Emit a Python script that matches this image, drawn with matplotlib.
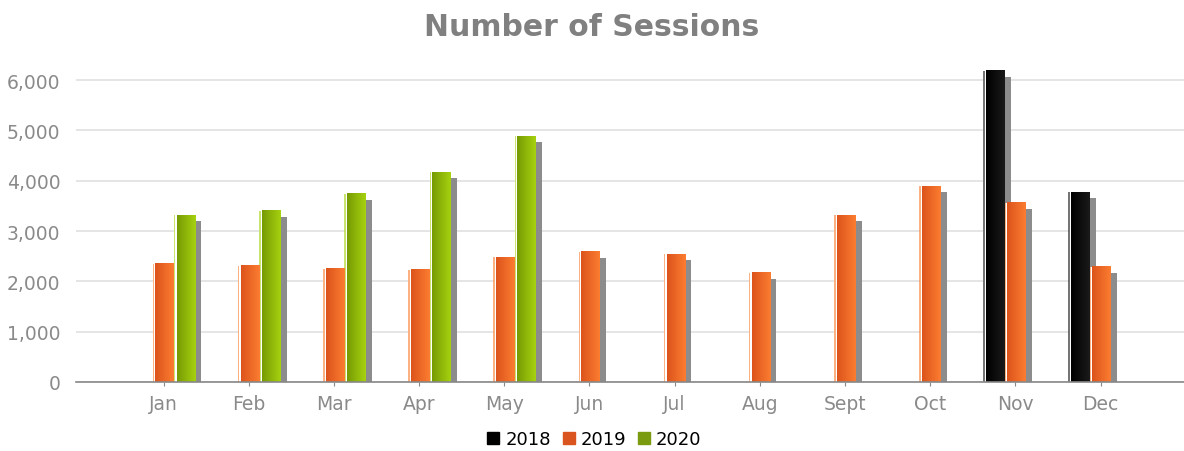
import numpy as np
import matplotlib
matplotlib.use("Agg")
import matplotlib.pyplot as plt
from matplotlib.colors import to_rgb
from matplotlib.lines import Line2D
from matplotlib.ticker import FuncFormatter

months = ["Jan", "Feb", "Mar", "Apr", "May", "Jun", "Jul", "Aug", "Sept", "Oct", "Nov", "Dec"]
years = ["2018", "2019", "2020"]
s2018 = [0, 0, 0, 0, 0, 0, 0, 0, 0, 0, 6190, 3770]
s2019 = [2350, 2310, 2250, 2230, 2480, 2590, 2540, 2170, 3310, 3890, 3560, 2290]
s2020 = [3310, 3400, 3740, 4170, 4890, 0, 0, 0, 0, 0, 0, 0]

# dark -> light gradient ends, plus legend colour
styles = {
    "2018": ("#000000", "#1a1a1a", "#000000"),
    "2019": ("#dc531b", "#fb7d31", "#d9541e"),
    "2020": ("#769a04", "#a6d20f", "#7a9a10"),
}

fig = plt.figure(figsize=(11.84, 4.52), dpi=100)
ax = fig.add_axes([0.064, 0.1527, 0.936, 0.7234])

x = np.arange(len(months))
w = 0.25
px = 1 / 85.1          # one pixel in x data units
py = 1000 / 50.3       # one pixel in y data units

for i, (yr, vals) in enumerate(zip(years, [s2018, s2019, s2020])):
    dark, light, _ = styles[yr]
    pos = x + (i - 1) * w
    # drop shadow
    sh = [v - 6 * py if v > 0 else 0 for v in vals]
    ax.bar(pos + 6 * px, sh, w, color="#8c8c8c", zorder=2, linewidth=0)
    # white base, then thin light stripe on the left
    bars = ax.bar(pos, vals, w, color="white", zorder=3, linewidth=0)
    ax.bar(pos - w / 2 + 0.6 * px, vals, 1.4 * px, color=light, alpha=0.6, zorder=4, linewidth=0)
    grad = np.linspace(0, 1, 64)
    c0, c1 = np.array(to_rgb(dark)), np.array(to_rgb(light))
    img = (c0[None, :] * (1 - grad[:, None]) + c1[None, :] * grad[:, None])[None, :, :]
    for b in bars:
        h = b.get_height()
        if h <= 0:
            continue
        x0 = b.get_x() + 2.6 * px
        x1 = b.get_x() + b.get_width()
        ax.imshow(img, extent=[x0, x1, 0, h], aspect="auto", zorder=5, interpolation="bilinear")

ax.set_xlim(-1.03, 11.98)
ax.set_ylim(0, 6500)
ax.set_yticks(range(0, 7000, 1000))
ax.yaxis.set_major_formatter(FuncFormatter(lambda v, p: f"{int(v):,}"))
ax.set_xticks(x)
ax.set_xticklabels(months)
ax.grid(axis="y", color="#e0e0e0", linewidth=1.2, zorder=0)
ax.set_axisbelow(True)
for s in ["top", "right", "left"]:
    ax.spines[s].set_visible(False)
ax.spines["bottom"].set_color("#888888")
ax.spines["bottom"].set_linewidth(1.2)
ax.spines["bottom"].set_zorder(6)
ax.tick_params(axis="y", length=0, pad=11, labelsize=13.5, labelcolor="#8a8a8a")
ax.tick_params(axis="x", length=3, color="#888888", pad=6, labelsize=13.5, labelcolor="#8a8a8a")

fig.text(0.5, 1 - 27 / 452, "Number of Sessions", ha="center", va="center",
         fontsize=21.5, fontweight="bold", color="#808080")

handles = [Line2D([], [], marker="s", linestyle="", markersize=8, color=styles[y][2]) for y in years]
fig.legend(handles, years, loc="center", bbox_to_anchor=(0.5, 1 - 440 / 452), ncol=3, frameon=False,
           fontsize=13, handletextpad=0.05, columnspacing=0.4, handlelength=1.2)

fig.savefig("out.png", dpi=100)
